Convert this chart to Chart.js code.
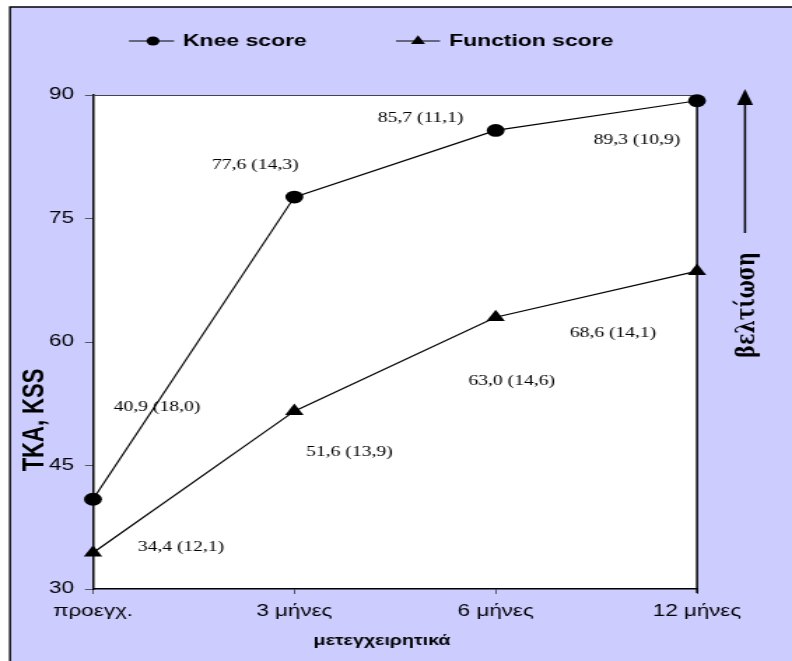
<!DOCTYPE html>
<html>
<head>
<meta charset="utf-8">
<title>TKA, KSS</title>
<script src="https://cdn.jsdelivr.net/npm/chart.js"></script>
<style>
  html, body { margin: 0; padding: 0; background: #fff; overflow: hidden; }
  /* the original picture is stretched sideways, so the canvas is too */
  #chart { display: block; transform: scaleX(1.3993); transform-origin: 0 0; }
</style>
</head>
<body>
<canvas id="chart" width="566" height="661"></canvas>
<script>
// data
var categories = ['προεγχ.', '3 μήνες', '6 μήνες', '12 μήνες'];
var kneeScore = [40.9, 77.6, 85.7, 89.3];
var kneeSD = [18.0, 14.3, 11.1, 10.9];
var functionScore = [34.4, 51.6, 63.0, 68.6];
var functionSD = [12.1, 13.9, 14.6, 14.1];
var yTicks = [30, 45, 60, 75, 90];

// label offsets from each point, in page pixels
var kneeOffsets = [[64, -92], [-39, -32], [-75, -12], [-60, 40]];
var functionOffsets = [[88, -5], [55, 41], [16, 64], [-84, 62]];

var S = 792 / 566;
function px(v) { return v / S; } // page x -> canvas x

var LAVENDER = '#CCCCFF';
var SANS = '"Liberation Sans", Arial, sans-serif';
var SERIF = '"Liberation Serif", "Times New Roman", serif';

function fmt(v) {
    return v.toFixed(1).replace('.', ',');
}

function drawTriangle(ctx, x, y, r) {
    ctx.beginPath();
    ctx.moveTo(x, y - r);
    ctx.lineTo(x + r * 0.866, y + r * 0.5);
    ctx.lineTo(x - r * 0.866, y + r * 0.5);
    ctx.closePath();
    ctx.fill();
}

var decor = {
    id: 'decor',
    beforeDraw: function(chart) {
        var ctx = chart.ctx;
        var a = chart.chartArea;
        ctx.save();
        ctx.fillStyle = '#fff';
        ctx.fillRect(0, 0, chart.width, chart.height);
        ctx.fillStyle = LAVENDER;
        ctx.fillRect(px(10), 7, chart.width, chart.height);
        // outer frame, left and top
        ctx.strokeStyle = '#000';
        ctx.lineWidth = 1.4;
        ctx.beginPath();
        ctx.moveTo(px(10), chart.height);
        ctx.lineTo(px(10), 7);
        ctx.lineTo(chart.width, 7);
        ctx.stroke();
        // plot area
        ctx.fillStyle = '#fff';
        ctx.fillRect(a.left, a.top, a.right - a.left, a.bottom - a.top);
        ctx.restore();
    },
    beforeDatasetsDraw: function(chart) {
        var ctx = chart.ctx;
        var a = chart.chartArea;
        ctx.save();
        ctx.strokeStyle = '#444';
        ctx.lineWidth = 1;
        ctx.beginPath();
        ctx.moveTo(a.left, a.top + 0.5);
        ctx.lineTo(a.right, a.top + 0.5);
        ctx.stroke();
        ctx.strokeStyle = '#000';
        ctx.lineWidth = 1.5;
        ctx.beginPath();
        ctx.moveTo(a.right, a.top);
        ctx.lineTo(a.right, a.bottom + 4);
        ctx.stroke();
        ctx.restore();
    },
    afterDraw: function(chart) {
        var ctx = chart.ctx;
        ctx.save();
        ctx.fillStyle = '#000';
        ctx.strokeStyle = '#000';

        // value labels
        ctx.font = '14px ' + SERIF;
        ctx.textAlign = 'center';
        ctx.textBaseline = 'middle';
        var sets = [[kneeScore, kneeSD, kneeOffsets], [functionScore, functionSD, functionOffsets]];
        sets.forEach(function(s, d) {
            var meta = chart.getDatasetMeta(d);
            meta.data.forEach(function(pt, i) {
                var txt = fmt(s[0][i]) + ' (' + fmt(s[1][i]) + ')';
                ctx.fillText(txt, pt.x + px(s[2][i][0]), pt.y + s[2][i][1]);
            });
        });

        // legend
        var ly = 41;
        ctx.lineWidth = 1.2;
        ctx.beginPath();
        ctx.moveTo(px(129), ly); ctx.lineTo(px(174), ly);
        ctx.moveTo(px(396), ly); ctx.lineTo(px(440), ly);
        ctx.stroke();
        ctx.beginPath();
        ctx.arc(px(153), ly, 4.6, 0, Math.PI * 2);
        ctx.fill();
        drawTriangle(ctx, px(418), ly, 5.8);
        ctx.font = 'bold 16.4px ' + SANS;
        ctx.textAlign = 'left';
        ctx.fillText('Knee score', px(183), ly);
        ctx.fillText('Function score', px(449), ly);

        // axis titles
        ctx.textAlign = 'center';
        ctx.font = 'bold 14px ' + SANS;
        ctx.fillText('μετεγχειρητικά', px(382), 641);

        ctx.save();
        ctx.translate(px(35), 420);
        ctx.rotate(-Math.PI / 2);
        ctx.font = 'bold 22px "Liberation Sans Narrow", ' + SANS;
        ctx.fillText('TKA, KSS', 0, 0);
        ctx.restore();

        // improvement arrow
        var ax = px(745);
        ctx.lineWidth = 1.5;
        ctx.beginPath();
        ctx.moveTo(ax, 233);
        ctx.lineTo(ax, 100);
        ctx.stroke();
        ctx.beginPath();
        ctx.moveTo(ax, 89);
        ctx.lineTo(ax + px(8), 105);
        ctx.lineTo(ax - px(8), 105);
        ctx.closePath();
        ctx.fill();

        ctx.save();
        ctx.translate(px(748), 305);
        ctx.rotate(-Math.PI / 2);
        ctx.font = 'bold 19px "DejaVu Serif", ' + SERIF;
        ctx.fillText('βελτίωση', 0, 0);
        ctx.restore();

        ctx.restore();
    }
};

var ctx = document.getElementById('chart').getContext('2d');
var myChart = new Chart(ctx, {
    type: 'line',
    data: {
        labels: categories,
        datasets: [{
            label: 'Knee score',
            data: kneeScore,
            borderColor: '#000',
            backgroundColor: '#000',
            borderWidth: 1.2,
            pointStyle: 'circle',
            pointRadius: 6.4,
            pointBackgroundColor: '#000',
            pointBorderWidth: 0,
            tension: 0,
            clip: false
        }, {
            label: 'Function score',
            data: functionScore,
            borderColor: '#000',
            backgroundColor: '#000',
            borderWidth: 1.2,
            pointStyle: 'triangle',
            pointRadius: 7.6,
            pointBackgroundColor: '#000',
            pointBorderWidth: 0,
            tension: 0,
            clip: false
        }]
    },
    options: {
        responsive: false,
        animation: false,
        devicePixelRatio: 1,
        layout: { padding: { top: 95, right: 566 - px(697), left: 0, bottom: 0 } },
        plugins: {
            legend: { display: false },
            title: { display: false },
            tooltip: { enabled: false }
        },
        scales: {
            x: {
                type: 'category',
                offset: false,
                grid: { drawOnChartArea: false, tickLength: 5, color: '#555', offset: false },
                border: { color: '#000', width: 1.5 },
                ticks: { color: '#000', font: { family: SANS, size: 16 }, padding: 8, maxRotation: 0, autoSkip: false },
                afterFit: function(scale) { scale.height = 661 - 589; }
            },
            y: {
                min: 30,
                max: 90,
                afterBuildTicks: function(scale) {
                    scale.ticks = yTicks.map(function(v) { return { value: v }; });
                },
                grid: { drawOnChartArea: false, tickLength: px(8), color: '#555' },
                border: { color: '#000', width: 1.5 },
                ticks: { color: '#000', font: { family: SANS, size: 16 }, padding: px(11) },
                afterFit: function(scale) { scale.width = px(93); }
            }
        }
    },
    plugins: [decor]
});
</script>
</body>
</html>
